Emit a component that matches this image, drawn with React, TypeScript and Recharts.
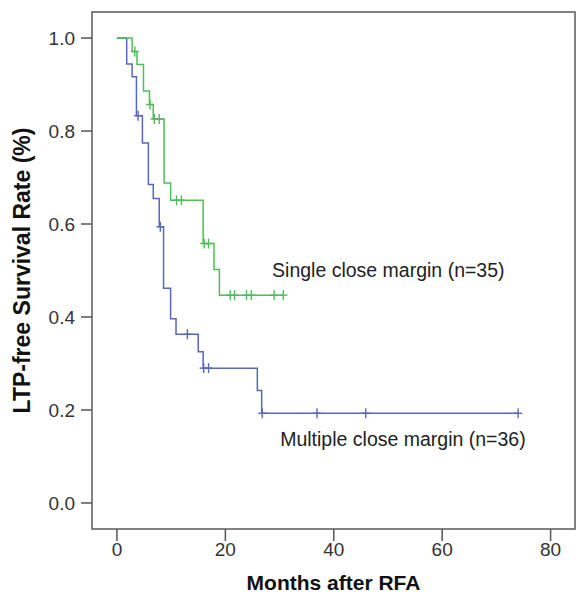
import React from "react";
import {
  ComposedChart,
  Line,
  XAxis,
  YAxis,
  ReferenceArea,
  ReferenceDot,
} from "recharts";

// Kaplan-Meier curves (months, survival)
const singleTimes = [2.8, 3.7, 4.9, 6.0, 6.7, 8.7, 9.9, 15.9, 17.9, 18.9];
const singleSurv = [0.971, 0.943, 0.886, 0.857, 0.826, 0.688, 0.651, 0.558, 0.502, 0.447];
const singleCensored = [3.3, 6.1, 6.9, 7.8, 11.0, 11.9, 16.1, 16.9, 20.9, 21.7, 23.9, 24.8, 29.0, 30.7];

const multiTimes = [1.8, 2.8, 3.6, 4.7, 5.8, 6.7, 7.8, 8.6, 9.9, 10.9, 15.0, 15.9, 25.9, 26.7];
const multiSurv = [0.944, 0.917, 0.833, 0.774, 0.685, 0.655, 0.594, 0.462, 0.396, 0.363, 0.325, 0.29, 0.242, 0.193];
const multiCensored = [3.9, 8.0, 13.0, 16.0, 16.9, 26.8, 36.9, 45.9, 74.0];

const xTicks = [0, 20, 40, 60, 80];
const yTicks = [0, 0.2, 0.4, 0.6, 0.8, 1.0];

const GREEN = "#52bc5a";
const BLUE = "#5868b8";
const FONT = "'Liberation Sans', Arial, sans-serif";

type Pt = { t: number; s: number; c: boolean };

function buildCurve(times: number[], surv: number[], censored: number[]): Pt[] {
  const pts: Pt[] = [{ t: 0, s: 1, c: false }];
  times.forEach((t, i) => pts.push({ t, s: surv[i], c: false }));
  censored.forEach((ct) => {
    let level = 1;
    times.forEach((t, i) => {
      if (t <= ct) level = surv[i];
    });
    pts.push({ t: ct, s: level, c: true });
  });
  return pts.sort((a, b) => a.t - b.t || Number(a.c) - Number(b.c));
}

const singleData = buildCurve(singleTimes, singleSurv, singleCensored);
const multiData = buildCurve(multiTimes, multiSurv, multiCensored);

const censorMark = (color: string) => (props: any) => {
  const { cx, cy, payload, index } = props;
  if (!payload || !payload.c) return <g key={index} />;
  return (
    <g key={index} stroke={color} strokeWidth={1.4}>
      <line x1={cx - 4} x2={cx + 4} y1={cy} y2={cy} />
      <line x1={cx} x2={cx} y1={cy - 5} y2={cy + 5} />
    </g>
  );
};

const noteLabel = (text: string) => (props: any) => {
  const { viewBox } = props;
  return (
    <text
      x={viewBox.x}
      y={viewBox.y + viewBox.height / 2}
      dominantBaseline="central"
      fontSize={19.5}
      fontFamily={FONT}
      fill="#222"
    >
      {text}
    </text>
  );
};

export default function App() {
  return (
    <div style={{ width: 579, height: 591, background: "#fff" }}>
      <ComposedChart
        width={579}
        height={591}
        margin={{ top: 4, right: 12, left: 0, bottom: 0 }}
      >
        <XAxis
          type="number"
          dataKey="t"
          domain={[-4.6, 84.5]}
          ticks={xTicks}
          allowDataOverflow
          axisLine={false}
          tickSize={12}
          tickLine={{ stroke: "#555", strokeWidth: 1.5 }}
          tick={{ fill: "#333", fontSize: 19, fontFamily: FONT }}
          height={70}
          label={{
            value: "Months after RFA",
            position: "insideBottom",
            offset: 9,
            style: { fontWeight: 700, fontSize: 21, fontFamily: FONT, fill: "#111" },
          }}
        />
        <YAxis
          type="number"
          dataKey="s"
          domain={[-0.056, 1.056]}
          ticks={yTicks}
          allowDataOverflow
          axisLine={false}
          tickSize={11}
          tickMargin={6}
          tickFormatter={(v) => v.toFixed(1)}
          tickLine={{ stroke: "#555", strokeWidth: 1.5 }}
          tick={{ fill: "#333", fontSize: 19, fontFamily: FONT }}
          width={84}
          label={{
            value: "LTP-free Survival Rate (%)",
            angle: -90,
            position: "insideLeft",
            offset: 14,
            style: {
              textAnchor: "middle",
              fontWeight: 700,
              fontSize: 23,
              fontFamily: FONT,
              fill: "#111",
            },
          }}
        />
        <ReferenceArea
          x1={-4.6}
          x2={84.5}
          y1={-0.056}
          y2={1.056}
          fill="none"
          stroke="#5a5a5a"
          strokeWidth={1.5}
          ifOverflow="visible"
        />
        <Line
          data={multiData}
          dataKey="s"
          type="stepAfter"
          stroke={BLUE}
          strokeWidth={1.5}
          dot={censorMark(BLUE)}
          activeDot={false}
          isAnimationActive={false}
        />
        <Line
          data={singleData}
          dataKey="s"
          type="stepAfter"
          stroke={GREEN}
          strokeWidth={1.5}
          dot={censorMark(GREEN)}
          activeDot={false}
          isAnimationActive={false}
        />
        <ReferenceDot
          x={28.8}
          y={0.501}
          r={1}
          fill="none"
          stroke="none"
          label={noteLabel("Single close margin (n=35)")}
        />
        <ReferenceDot
          x={30.3}
          y={0.138}
          r={1}
          fill="none"
          stroke="none"
          label={noteLabel("Multiple close margin (n=36)")}
        />
      </ComposedChart>
    </div>
  );
}
